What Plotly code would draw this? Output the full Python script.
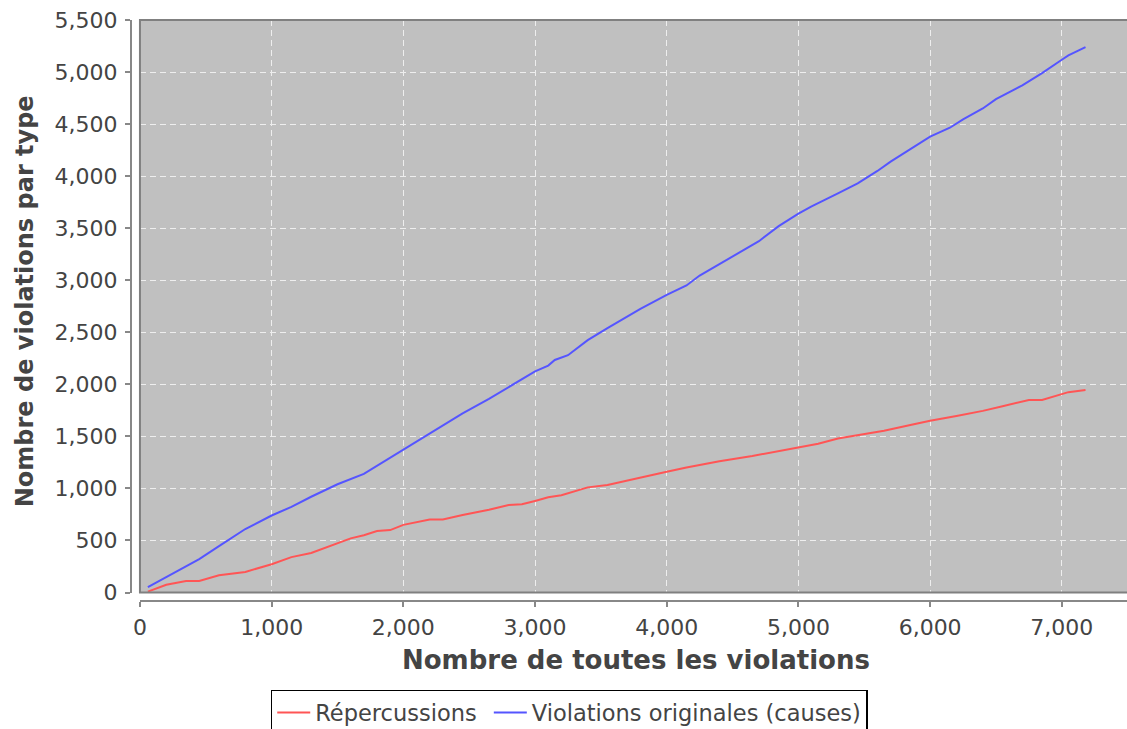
import plotly.graph_objects as go

# --- data ---
blue_x = [60, 200, 350, 450, 600, 800, 1000, 1150, 1300, 1500, 1700, 1850, 2000, 2200, 2300,
          2450, 2650, 2800, 2900, 3000, 3100, 3150, 3250, 3400, 3550, 3700, 3800, 4000, 4150,
          4250, 4400, 4550, 4700, 4850, 5000, 5100, 5200, 5300, 5450, 5600, 5700, 5850, 6000,
          6150, 6250, 6400, 6500, 6700, 6800, 6850, 7000, 7050, 7180]
blue_y = [52, 150, 250, 320, 445, 610, 740, 823, 920, 1040, 1140, 1256, 1368, 1529, 1605,
          1720, 1860, 1970, 2050, 2125, 2180, 2234, 2280, 2425, 2540, 2650, 2725, 2859, 2950,
          3045, 3155, 3265, 3375, 3520, 3640, 3710, 3770, 3835, 3930, 4050, 4140, 4262, 4380,
          4465, 4545, 4650, 4740, 4873, 4950, 4990, 5118, 5160, 5240]

red_x = [60, 200, 350, 450, 600, 800, 1000, 1150, 1300, 1500, 1600, 1700, 1800, 1900, 2000,
         2200, 2300, 2450, 2650, 2800, 2900, 3000, 3100, 3200, 3400, 3550, 3800, 4000, 4150,
         4250, 4400, 4650, 4850, 5000, 5150, 5300, 5450, 5650, 5850, 6000, 6200, 6400, 6550,
         6750, 6850, 7000, 7050, 7180]
red_y = [8, 75, 110, 110, 165, 198, 272, 340, 380, 470, 520, 550, 590, 600, 650,
         702, 702, 745, 795, 840, 848, 880, 915, 935, 1010, 1032, 1106, 1160, 1200,
         1224, 1260, 1311, 1360, 1400, 1430, 1480, 1510, 1554, 1610, 1650, 1695, 1745, 1790,
         1849, 1850, 1905, 1925, 1945]

series_names = ["Répercussions", "Violations originales (causes)"]
x_title = "Nombre de toutes les violations"
y_title = "Nombre de violations par type"

FONT = "DejaVu Sans"
TXT = "#444444"

fig = go.Figure()
fig.add_trace(go.Scatter(x=red_x, y=red_y, mode="lines", name=series_names[0] + "\u00a0",
                         line=dict(color="#FF5555", width=2)))
fig.add_trace(go.Scatter(x=blue_x, y=blue_y, mode="lines", name=series_names[1],
                         line=dict(color="#5555FF", width=2)))

fig.update_layout(
    width=1127, height=729,
    margin=dict(l=131, r=0, t=20, b=128, autoexpand=False),
    paper_bgcolor="white",
    plot_bgcolor="#C0C0C0",
    font=dict(family=FONT, size=22, color=TXT),
    showlegend=True,
    legend=dict(orientation="h", x=0.44, xanchor="center", y=-0.153, yanchor="top",
                bgcolor="white", bordercolor="black", borderwidth=1.5,
                font=dict(family=FONT, size=22.5, color=TXT),
                itemwidth=33, tracegroupgap=0),
    xaxis=dict(range=[0, 7495], domain=[0.009, 1], anchor="free", position=0,
               automargin=False,
               tickmode="linear", tick0=0, dtick=1000, tickformat=",",
               showline=True, linecolor="#888888", linewidth=2,
               ticks="outside", ticklen=5, tickcolor="#888888", tickwidth=2,
               showgrid=True, gridcolor="#EEEEEE", gridwidth=1.3, griddash="6px,4px",
               zeroline=False, ticklabelstandoff=2,
               tickfont=dict(family=FONT, size=22, color=TXT)),
    yaxis=dict(range=[0, 5500], domain=[0.0146, 1], anchor="free", position=0,
               automargin=False,
               tickmode="linear", tick0=0, dtick=500, tickformat=",",
               showline=True, linecolor="#888888", linewidth=2,
               ticks="outside", ticklen=5, tickcolor="#888888", tickwidth=2,
               showgrid=True, gridcolor="#EEEEEE", gridwidth=1.3, griddash="6px,4px",
               zeroline=False, ticklabelstandoff=3,
               tickfont=dict(family=FONT, size=22, color=TXT)),
    shapes=[dict(type="rect", xref="paper", yref="paper", x0=0.009, x1=1.02, y0=0.0146, y1=1,
                 line=dict(color="#808080", width=2), fillcolor="rgba(0,0,0,0)", layer="above")],
    annotations=[
        dict(text="<b>" + x_title + "</b>", xref="paper", yref="paper", x=0.507, y=-0.1015,
             xanchor="center", yanchor="middle", showarrow=False,
             font=dict(family=FONT, size=26, color=TXT)),
        dict(text="<b>" + y_title + "</b>", xref="paper", yref="paper", x=-0.1064, y=0.516,
             xanchor="center", yanchor="middle", showarrow=False, textangle=-90,
             font=dict(family=FONT, size=24, color=TXT)),
    ],
)

fig.write_html("out.html", config={"displayModeBar": False},
               post_script="document.body.style.margin='0px';")
